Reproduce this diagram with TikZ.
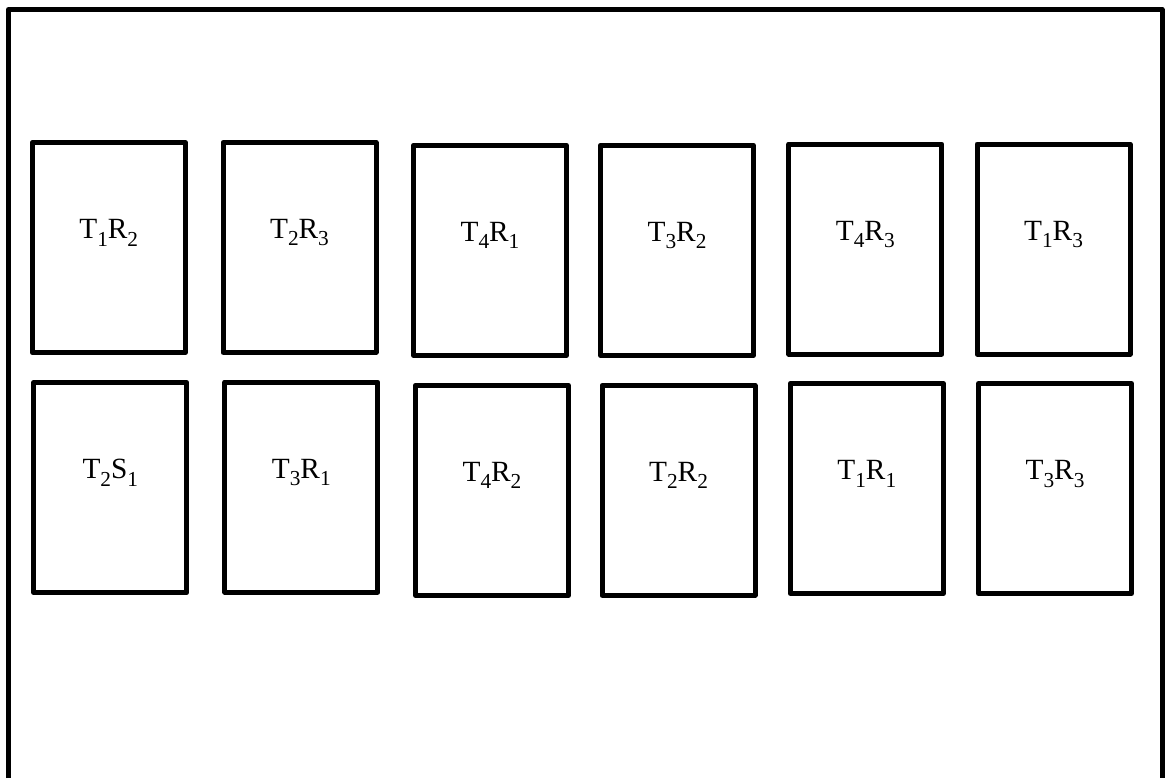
\documentclass[tikz,border=0pt]{standalone}
\usepackage{fontspec}
\setmainfont{Liberation Serif}
\newcommand{\sbs}[1]{\raisebox{-5.5pt}{\fontsize{16}{16}\selectfont #1}}
\begin{document}
\begin{tikzpicture}
   [x=0.75pt,y=-0.75pt,line width=3.75pt,line join=round,
    plotbox/.style={rectangle,draw=black,inner sep=0pt,minimum width=114.75pt,minimum height=157.5pt},
    tag/.style={anchor=base,inner sep=0pt,font=\fontsize{22}{26}\selectfont}]
  \useasboundingbox (0,0) rectangle (1166,778);
  \draw (8.5,778) -- (8.5,9.5) -- (1162,9.5) -- (1162,778);

  % first row
  \node[plotbox] (p1) at (108.75,247.5) {};
  \node[plotbox] (p2) at (299.5,247.3) {};
  \node[plotbox] (p3) at (490,250.3) {};
  \node[plotbox] (p4) at (677,250.3) {};
  \node[plotbox] (p5) at (865.3,249) {};
  \node[plotbox] (p6) at (1053.5,249) {};
  % second row
  \node[plotbox] (p7) at (110.3,487.5) {};
  \node[plotbox] (p8) at (301.3,487) {};
  \node[plotbox] (p9) at (492,490.3) {};
  \node[plotbox] (p10) at (678.5,490.3) {};
  \node[plotbox] (p11) at (866.8,488.5) {};
  \node[plotbox] (p12) at (1055,488.5) {};

  \foreach \p/\t in {p1/{T\sbs{1}R\sbs{2}}, p2/{T\sbs{2}R\sbs{3}}, p3/{T\sbs{4}R\sbs{1}},
                     p4/{T\sbs{3}R\sbs{2}}, p5/{T\sbs{4}R\sbs{3}}, p6/{T\sbs{1}R\sbs{3}},
                     p7/{T\sbs{2}S\sbs{1}}, p8/{T\sbs{3}R\sbs{1}}, p9/{T\sbs{4}R\sbs{2}},
                     p10/{T\sbs{2}R\sbs{2}}, p11/{T\sbs{1}R\sbs{1}}, p12/{T\sbs{3}R\sbs{3}}}
    \node[tag] (\p-t) at ([yshift=6.5pt]\p.center) {\t};

\end{tikzpicture}
\end{document}
